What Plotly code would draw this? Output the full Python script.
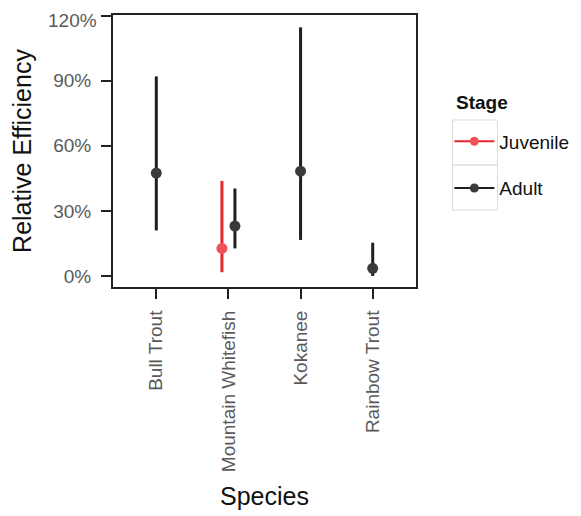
import plotly.graph_objects as go

species = ["Bull Trout", "Mountain Whitefish", "Kokanee", "Rainbow Trout"]

# Juvenile (only Mountain Whitefish)
juv_species = ["Mountain Whitefish"]
juv_mean = [12.7]
juv_low = [1.7]
juv_high = [43.8]

# Adult
adult_species = ["Bull Trout", "Mountain Whitefish", "Kokanee", "Rainbow Trout"]
adult_mean = [47.4, 23.0, 48.3, 3.5]
adult_low = [21.0, 12.7, 16.6, 0.0]
adult_high = [92.0, 40.3, 114.6, 15.3]

y_ticks = [0, 30, 60, 90, 120]
y_tick_labels = ["0%", "30%", "60%", "90%", "120%"]

dodge = 0.09
red_line = "#E8242C"
red_pt = "#F0525A"
dark = "#1e1e1e"
dark_pt = "#3a3a3a"
tick_color = "#5a5a5a"

juv_x = [species.index(n) - dodge for n in juv_species]
adult_x = [species.index(n) + (dodge if n in juv_species else 0) for n in adult_species]

fig = go.Figure()

fig.add_trace(go.Scatter(
    x=juv_x, y=juv_mean, mode="markers",
    marker=dict(color=red_pt, size=11, line=dict(width=0)),
    error_y=dict(type="data", symmetric=False,
                 array=[h - m for h, m in zip(juv_high, juv_mean)],
                 arrayminus=[m - l for m, l in zip(juv_mean, juv_low)],
                 width=0, thickness=3, color=red_line),
    showlegend=False))

fig.add_trace(go.Scatter(
    x=adult_x, y=adult_mean, mode="markers",
    marker=dict(color=dark_pt, size=11, line=dict(width=0)),
    error_y=dict(type="data", symmetric=False,
                 array=[h - m for h, m in zip(adult_high, adult_mean)],
                 arrayminus=[m - l for m, l in zip(adult_mean, adult_low)],
                 width=0, thickness=3, color=dark),
    showlegend=False))

# legend entries
fig.add_trace(go.Scatter(x=[None], y=[None], mode="lines+markers", name="Juvenile",
                         legendgroup="j",
                         line=dict(color=red_line, width=2),
                         marker=dict(color=red_pt, size=9)))
fig.add_trace(go.Scatter(x=[None], y=[None], mode="lines+markers", name="Adult",
                         legendgroup="a",
                         line=dict(color=dark, width=2),
                         marker=dict(color=dark_pt, size=9)))

# legend key boxes (light grey borders)
key_boxes = [(1.121, 1.269, 0.4485, 0.614), (1.121, 1.269, 0.283, 0.4485)]
for x0, x1, y0, y1 in key_boxes:
    fig.add_shape(type="rect", xref="paper", yref="paper", x0=x0, x1=x1, y0=y0, y1=y1,
                  line=dict(color="#dcdcdc", width=1), layer="below")

fig.add_annotation(text="<b>Stage</b>", xref="paper", yref="paper",
                   x=1.126, y=0.680, xanchor="left", yanchor="middle",
                   showarrow=False, font=dict(size=19, color="#111"))

# the top tick label sits slightly below its tick (as in the reference) to stay on the page
shown_labels = [t if v != max(y_ticks) else "" for v, t in zip(y_ticks, y_tick_labels)]
fig.add_annotation(text=y_tick_labels[-1], xref="paper", yref="y",
                   x=0, y=y_ticks[-1], xanchor="right", yanchor="middle",
                   xshift=-15, yshift=-5, showarrow=False, borderpad=0,
                   font=dict(size=19, color=tick_color))

fig.update_layout(
    width=573, height=508,
    margin=dict(l=105, r=163, t=7, b=229),
    paper_bgcolor="white", plot_bgcolor="white",
    font=dict(family="Liberation Sans, Arial, sans-serif", color="#222"),
    xaxis=dict(
        range=[-0.6, 3.6], tickmode="array",
        tickvals=list(range(len(species))), ticktext=species,
        tickangle=-90, ticks="outside", ticklen=10, tickwidth=2, tickcolor="#222",
        tickfont=dict(size=19, color=tick_color), ticklabelstandoff=4,
        showgrid=False, zeroline=False, automargin=False,
        showline=True, linewidth=2, linecolor="#222", mirror=True,
        title=dict(text="Species", font=dict(size=25, color="#111"), standoff=16),
    ),
    yaxis=dict(
        range=[-5.1, 120.3], tickmode="array",
        tickvals=y_ticks, ticktext=shown_labels,
        ticks="outside", ticklen=10, tickwidth=2, tickcolor="#222",
        tickfont=dict(size=19, color=tick_color), ticklabelstandoff=6,
        showgrid=False, zeroline=False, automargin=False,
        showline=True, linewidth=2, linecolor="#222", mirror=True,
        title=dict(text="Relative Efficiency", font=dict(size=25, color="#111"), standoff=15),
    ),
    legend=dict(
        x=1.110, xanchor="left", y=0.605, yanchor="top",
        font=dict(size=19, color="#111"),
        tracegroupgap=19, itemwidth=40,
        bgcolor="rgba(0,0,0,0)",
    ),
)

fig.write_html("out.html", config={"displayModeBar": False})
